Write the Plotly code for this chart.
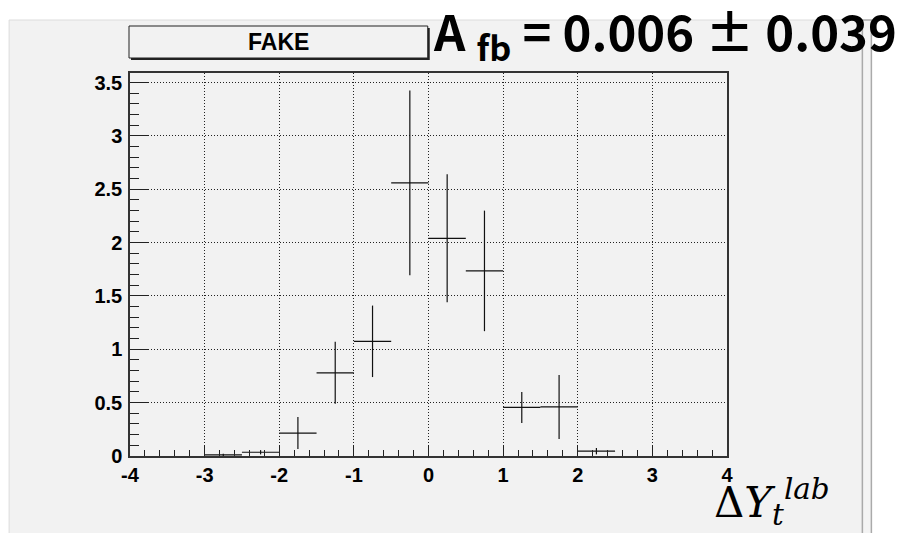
import plotly.graph_objects as go

# ---- data ----
bin_centers = [-2.75, -2.25, -1.75, -1.25, -0.75, -0.25, 0.25, 0.75, 1.25, 1.75, 2.25]
bin_half_width = [0.25] * 11
values = [0.01, 0.035, 0.215, 0.78, 1.075, 2.56, 2.04, 1.735, 0.455, 0.46, 0.045]
errors = [0.01, 0.02, 0.15, 0.29, 0.335, 0.865, 0.60, 0.565, 0.145, 0.30, 0.03]

x_tickvals = [-4, -3, -2, -1, 0, 1, 2, 3, 4]
x_ticktext = ["-4", "-3", "-2", "-1", "0", "1", "2", "3", "4"]
y_tickvals = [0, 0.5, 1, 1.5, 2, 2.5, 3, 3.5]
y_ticktext = ["0", "0.5", "1", "1.5", "2", "2.5", "3", "3.5"]

title_text = "FAKE"
afb_text = "A <sub>fb</sub> = 0.006 ± 0.039"
xlabel_text = "Δ<i>Y</i><sub><i>t</i></sub><sup><i>lab</i></sup>"

OFF = 8  # page body margin
W, H = 914, 533
# plot area in page pixels
L, R, T, B = 130, 727.5, 73, 456


def px(x):
    return (x - L) / (R - L)


def py(y):
    return (B - y) / (B - T)


fig = go.Figure()
fig.add_trace(go.Scatter(
    x=bin_centers, y=values, mode="markers",
    marker=dict(size=0.1, color="black"),
    error_x=dict(type="data", array=bin_half_width, width=0, thickness=1.2, color="#111"),
    error_y=dict(type="data", array=errors, width=0, thickness=1.2, color="#111"),
    showlegend=False, hoverinfo="skip",
))

tickfont = dict(family="Arial, Liberation Sans", size=20, color="black", weight=700)
fig.update_xaxes(
    range=[-4, 4], tickvals=x_tickvals, ticktext=x_ticktext,
    ticks="inside", ticklen=11, tickwidth=1, tickcolor="#222",
    minor=dict(dtick=0.2, ticks="inside", ticklen=6, tickcolor="#222", showgrid=False),
    showgrid=True, griddash="1px,2px", gridcolor="#222", gridwidth=1,
    showline=True, linecolor="#333", linewidth=1.5, mirror=True,
    zeroline=False, tickfont=tickfont, ticklabelstandoff=0,
)
fig.update_yaxes(
    range=[0, 3.59], tickvals=y_tickvals, ticktext=y_ticktext,
    ticks="inside", ticklen=18, tickwidth=1, tickcolor="#222",
    minor=dict(dtick=0.1, ticks="inside", ticklen=9, tickcolor="#222", showgrid=False),
    showgrid=True, griddash="1px,2px", gridcolor="#222", gridwidth=1,
    showline=True, linecolor="#333", linewidth=1.5, mirror=True,
    zeroline=False, tickfont=tickfont, ticklabelstandoff=2,
)

shapes = []
# canvas background
shapes.append(dict(type="rect", xref="paper", yref="paper", layer="below",
                   x0=px(9), x1=px(863), y0=py(20), y1=py(560),
                   fillcolor="#f2f2f2", line=dict(color="#dcdcdc", width=1)))
# right double border
shapes.append(dict(type="rect", xref="paper", yref="paper", layer="below",
                   x0=px(863), x1=px(872), y0=py(20), y1=py(560),
                   fillcolor="#f4f4f4", line=dict(color="#aaaaaa", width=1.5)))
# title box shadow + box
shapes.append(dict(type="rect", xref="paper", yref="paper", layer="above",
                   x0=px(131), x1=px(430), y0=py(28), y1=py(60),
                   fillcolor="#222", line=dict(width=0)))
shapes.append(dict(type="rect", xref="paper", yref="paper", layer="above",
                   x0=px(129), x1=px(428), y0=py(26), y1=py(58),
                   fillcolor="#f2f2f2", line=dict(color="#222", width=1)))

annotations = [
    dict(text=title_text, x=px(279), y=py(42), xref="paper", yref="paper",
         showarrow=False, xanchor="center", yanchor="middle",
         font=dict(family="Liberation Sans", size=23, color="black", weight="bold")),
    dict(text=afb_text, x=px(431), y=py(33), xref="paper", yref="paper",
         showarrow=False, xanchor="left", yanchor="middle",
         font=dict(family="Noto Sans CJK KR", size=49, color="black", weight="bold")),
    dict(text=xlabel_text, x=px(712), y=py(502), xref="paper", yref="paper",
         showarrow=False, xanchor="left", yanchor="middle",
         font=dict(family="DejaVu Serif", size=42, color="black")),
]

fig.update_layout(
    width=W, height=H,
    margin=dict(l=L - OFF, r=W - R + OFF, t=T - OFF, b=H - B + OFF, pad=0),
    paper_bgcolor="white", plot_bgcolor="rgba(0,0,0,0)",
    shapes=shapes, annotations=annotations,
)

fig.write_html("out.html")
